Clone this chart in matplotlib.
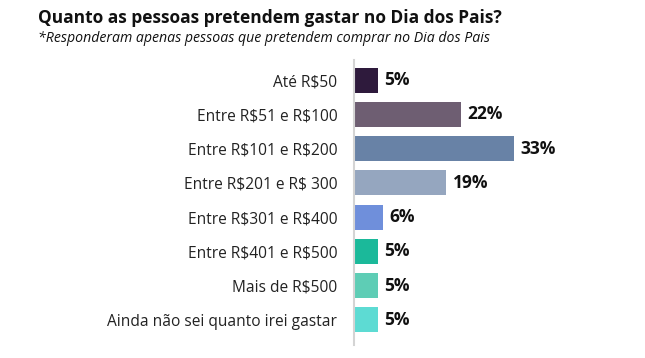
import matplotlib.pyplot as plt

categorias = ["Até R$50", "Entre R$51 e R$100", "Entre R$101 e R$200",
              "Entre R$201 e R$ 300", "Entre R$301 e R$400", "Entre R$401 e R$500",
              "Mais de R$500", "Ainda não sei quanto irei gastar"]
valores = [5, 22, 33, 19, 6, 5, 5, 5]
cores = ["#2e1a3c", "#6e5e72", "#6882a6", "#95a6bf", "#6f8fdb", "#1bb99a", "#5ecdb5", "#5ddbd3"]

plt.rcParams['font.family'] = ['Open Sans', 'DejaVu Sans']
plt.rcParams['text.parse_math'] = False

fig = plt.figure(figsize=(6.45, 3.58), dpi=100)
ax = fig.add_axes([354 / 645, 13 / 358, 194 / 645, 285 / 358])

pos = list(range(len(categorias)))
ax.barh(pos, valores, height=0.73, color=cores)
for p, v in zip(pos, valores):
    ax.text(v + 1.3, p, f"{v}%", va="center", ha="left", fontsize=12.5, fontweight="bold", color="#111111")

ax.set_xlim(0, 40)
ax.set_ylim(7.73, -0.585)
ax.set_yticks(pos)
ax.set_yticklabels(categorias, fontsize=11.2, color="#222222")
ax.tick_params(axis="y", length=0, pad=12)
ax.set_xticks([])
for s in ["top", "right", "bottom"]:
    ax.spines[s].set_visible(False)
ax.spines["left"].set_color("#d4d4d4")
ax.spines["left"].set_linewidth(1.5)

fig.text(38 / 645, 1 - 18 / 358, "Quanto as pessoas pretendem gastar no Dia dos Pais?",
         fontsize=12.5, fontweight="bold", va="center", ha="left", color="#111111")
fig.text(38 / 645, 1 - 38 / 358, "*Responderam apenas pessoas que pretendem comprar no Dia dos Pais",
         fontsize=10.2, fontstyle="italic", va="center", ha="left", color="#111111")

fig.savefig("out.png", dpi=100)
